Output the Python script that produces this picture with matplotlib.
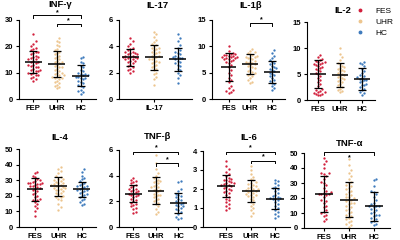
import numpy as np
import matplotlib
matplotlib.use('Agg')
import matplotlib.pyplot as plt
from matplotlib.lines import Line2D

plt.rcParams['font.family'] = ['Liberation Sans', 'DejaVu Sans']

groups = ['FES', 'UHR', 'HC']
colors = ['#d21f3c', '#edc58e', '#3f7bbd']

# INF-gamma
inf_fep = [24.5, 22, 21, 20, 19.5, 19, 18.5, 18, 18, 17.5, 17, 16.5, 16, 16, 15.5, 15, 15, 14.5, 14, 14,
           13.5, 13, 13, 12.5, 12, 12, 11.5, 11, 11, 10.5, 10.5, 10, 10, 9.5, 9, 9, 8.5, 8, 7.5, 7]
inf_uhr = [23, 22, 21.5, 20.5, 20, 19, 18.5, 18, 17.5, 17, 16.5, 16, 15.5, 15, 14.5, 14, 14, 13.5, 13, 12.5,
           12, 12, 11.5, 11, 10.5, 10, 10, 9.5, 9, 8.5, 8, 8, 7.5, 7, 6.5, 6, 5.5, 5, 4.5, 4, 8.5, 9]
inf_hc = [16, 15.5, 14, 13.5, 12.5, 12, 11, 10.5, 10, 9.5, 9.5, 9, 9, 8.5, 8.5, 8, 8, 7.5, 7, 6.5,
          6, 5.5, 5, 4.5, 3.5, 3, 2.5, 2]
inf_mean = [14.0, 13.2, 8.8]
inf_sd = [4.3, 4.9, 4.0]

# IL-17
il17_a = [4.6, 4.4, 4.2, 4.0, 3.9, 3.8, 3.7, 3.6, 3.6, 3.5, 3.4, 3.4, 3.3, 3.3, 3.2, 3.2, 3.1, 3.1, 3.0, 3.0,
          2.9, 2.9, 2.8, 2.7, 2.6, 2.5, 2.4, 2.3, 2.2, 2.1, 2.0, 3.5, 3.2]
il17_b = [5.1, 4.9, 4.7, 4.5, 4.3, 4.2, 4.0, 3.9, 3.8, 3.7, 3.6, 3.5, 3.4, 3.3, 3.3, 3.2, 3.1, 3.0, 3.0, 2.9,
          2.8, 2.7, 2.6, 2.5, 2.4, 2.3, 2.2, 2.0, 1.9, 1.7, 1.5, 1.1, 3.6, 2.8, 3.9, 4.1]
il17_c = [4.9, 4.6, 4.4, 4.1, 3.9, 3.7, 3.6, 3.5, 3.4, 3.3, 3.2, 3.1, 3.1, 3.0, 2.9, 2.8, 2.7, 2.6, 2.5, 2.3,
          2.2, 2.0, 1.8, 1.6, 1.2, 3.2]
il17_mean = [3.18, 3.18, 3.0]
il17_sd = [0.65, 0.95, 0.87]

# IL-1beta
il1b_fes = [10.0, 9.2, 8.8, 8.6, 8.5, 8.4, 8.3, 8.2, 8.1, 8.0, 8.0, 7.9, 7.8, 7.7, 7.6, 7.5, 7.4, 7.2, 7.0, 6.8,
            6.5, 6.0, 5.5, 5.0, 4.5, 4.0, 3.6, 3.2, 2.5, 2.0, 1.8, 1.5, 1.3, 1.2]
il1b_uhr = [9.5, 9.2, 8.9, 8.7, 8.5, 8.3, 8.1, 7.9, 7.7, 7.5, 7.3, 7.1, 7.0, 6.8, 6.6, 6.4, 6.2, 6.0, 5.8, 5.6,
            5.4, 5.2, 5.0, 4.8, 4.6, 4.4, 4.0, 3.6, 3.2, 3.0, 7.8, 6.9, 8.0]
il1b_hc = [9.3, 8.8, 8.2, 7.8, 7.4, 7.0, 6.6, 6.3, 6.0, 5.7, 5.5, 5.3, 5.0, 4.8, 4.6, 4.3, 4.0, 3.7, 3.4, 3.1,
           2.8, 2.4, 2.0, 1.7, 5.9, 6.8]
il1b_mean = [6.1, 6.6, 5.2]
il1b_sd = [2.6, 1.9, 2.1]

# IL-2
il2_fes = [8.7, 8.2, 7.9, 7.7, 7.5, 7.3, 7.1, 7.0, 6.8, 6.6, 6.4, 6.2, 6.0, 5.8, 5.5, 5.2, 5.0, 4.6, 4.2, 3.8,
           3.4, 3.0, 2.6, 2.2, 1.9, 1.7, 1.5, 1.3, 1.1, 1.0, 0.9, 1.2, 1.6, 6.9, 7.4]
il2_uhr = [10.0, 8.8, 8.2, 7.6, 7.2, 6.9, 6.6, 6.3, 6.0, 5.8, 5.5, 5.2, 5.0, 4.8, 4.6, 4.4, 4.2, 4.0, 3.7, 3.4,
           3.1, 2.8, 2.5, 2.2, 2.0, 1.8, 1.5, 5.6, 6.2, 3.9]
il2_hc = [7.4, 7.2, 7.0, 6.6, 6.0, 5.6, 5.2, 4.9, 4.6, 4.3, 4.1, 3.9, 3.6, 3.4, 3.1, 2.8, 2.5, 2.2, 1.9, 1.6,
          1.3, 1.0, 4.4, 3.8, 2.9]
il2_mean = [5.0, 4.8, 4.0]
il2_sd = [2.7, 2.3, 2.1]

# IL-4
il4_fes = [35.5, 34.5, 33, 32, 31, 30, 29.5, 29, 28.5, 28, 27.5, 27, 26.5, 26, 25.5, 25, 24.5, 24, 23, 22,
           21, 20, 19, 18, 17.5, 17, 16, 15, 13.5, 12, 10, 7, 27.8, 28.4]
il4_uhr = [38.5, 37, 36, 34.5, 33, 32, 31, 30.5, 30, 29.5, 29, 28.5, 28, 27.5, 27, 26.5, 26, 25.5, 25, 24.5,
           24, 23.5, 23, 22, 21.5, 21, 20, 19.5, 19, 18, 17, 15, 13, 11, 27.2, 25.2]
il4_hc = [37, 35.5, 33, 31.5, 30.5, 29.5, 28.5, 27.5, 27, 26.5, 26, 25.5, 25, 24.5, 24, 23.5, 23, 22.5, 22, 21,
          20.5, 20, 19, 18, 17, 16, 15, 14]
il4_mean = [24.1, 26.1, 24.1]
il4_sd = [7.2, 6.0, 5.0]

# TNF-beta
tnfb_fes = [3.8, 3.7, 3.6, 3.5, 3.4, 3.3, 3.2, 3.1, 3.0, 2.9, 2.8, 2.8, 2.7, 2.6, 2.6, 2.5, 2.4, 2.3, 2.2, 2.1,
            2.0, 1.9, 1.8, 1.7, 1.6, 1.5, 1.4, 1.2, 1.1, 3.0, 2.5]
tnfb_uhr = [5.6, 5.0, 4.5, 4.2, 4.0, 3.8, 3.7, 3.6, 3.5, 3.4, 3.3, 3.2, 3.1, 3.0, 2.9, 2.8, 2.7, 2.6, 2.5, 2.4,
            2.3, 2.2, 2.1, 2.0, 1.9, 1.8, 1.6, 1.4, 1.2, 1.0, 3.6, 2.9, 2.5, 3.1]
tnfb_hc = [3.6, 3.5, 3.0, 2.8, 2.6, 2.5, 2.3, 2.2, 2.1, 2.0, 1.9, 1.9, 1.8, 1.7, 1.6, 1.5, 1.4, 1.3, 1.2, 1.0,
           0.8, 0.7, 0.6, 2.4, 1.6]
tnfb_mean = [2.6, 2.82, 1.88]
tnfb_sd = [0.65, 1.05, 0.78]

# IL-6
il6_fes = [3.45, 3.2, 3.05, 2.9, 2.8, 2.7, 2.6, 2.5, 2.45, 2.4, 2.35, 2.3, 2.25, 2.2, 2.15, 2.1, 2.05, 2.0, 1.95,
           1.9, 1.85, 1.8, 1.7, 1.6, 1.5, 1.4, 1.3, 1.2, 1.1, 1.0, 0.9, 2.3, 2.2, 2.55]
il6_uhr = [3.2, 3.0, 2.8, 2.65, 2.55, 2.45, 2.35, 2.25, 2.2, 2.15, 2.1, 2.05, 2.0, 1.95, 1.9, 1.85, 1.8, 1.75,
           1.7, 1.65, 1.6, 1.5, 1.4, 1.3, 1.2, 1.1, 1.0, 0.9, 0.75, 0.6, 2.3, 1.9, 2.0, 1.7]
il6_hc = [2.5, 2.4, 2.3, 2.2, 2.1, 2.0, 1.9, 1.8, 1.7, 1.65, 1.6, 1.55, 1.5, 1.45, 1.4, 1.3, 1.2, 1.1, 1.0, 0.9,
          0.8, 0.7, 0.6, 0.5, 1.55, 2.05]
il6_mean = [2.15, 1.9, 1.5]
il6_sd = [0.58, 0.6, 0.55]

# TNF-alpha
tnfa_fes = [47, 45, 43, 40, 37, 36, 35, 33, 31, 29, 27, 25, 24, 23.5, 23, 22.5, 22, 21, 19, 18,
            17, 15, 14, 12, 11, 10, 9, 8, 6, 5, 23, 30, 36.5]
tnfa_uhr = [46, 42, 39, 37, 35, 33, 31, 30, 29, 28, 27, 26, 25, 24, 23, 22, 21, 20, 19, 18,
            17, 16, 15, 14, 13, 12, 11, 10, 9, 8, 7, 6, 5, 4, 3, 2, 1, 20.5, 18.5, 16.5]
tnfa_hc = [33, 32, 28, 25, 24, 23, 21, 19, 17, 16, 15, 14.5, 14, 13, 12, 11, 10, 9, 8, 7,
           6, 5, 4, 3, 2, 14.8, 8.5]
tnfa_mean = [23.0, 19.0, 14.5]
tnfa_sd = [12.0, 11.5, 9.5]


def swarm(vals, yspan, step=0.1):
    # deterministic spread of points that sit at similar heights
    v = np.asarray(vals, dtype=float)
    xs = np.zeros(len(v))
    placed = []
    cands = [0]
    for k in range(1, 5):
        cands += [k * step, -k * step]
    for idx in np.argsort(v):
        y = v[idx]
        near = [px for px, py in placed if abs(py - y) < yspan * 0.045]
        best = cands[0]
        for c in cands:
            if all(abs(c - px) > step * 0.6 for px in near):
                best = c
                break
        else:
            best = cands[len(placed) % len(cands)]
        xs[idx] = best
        placed.append((best, y))
    return xs


fig = plt.figure(figsize=(4, 2.4), dpi=100)


def panel(rect, title, data, mean, sd, ymax, yticks, xlim, xlabels, brackets=(), title_y=1.15):
    ax = fig.add_axes([rect[0] / 400, 1 - rect[3] / 240, (rect[1] - rect[0]) / 400, (rect[3] - rect[2]) / 240])
    for i, vals in enumerate(data):
        xs = swarm(vals, ymax)
        ax.scatter(i + xs, vals, s=2.8, color=colors[i], lw=0, zorder=2)
        ax.errorbar(i, mean[i], yerr=sd[i], color='k', lw=0.9, capsize=2.8, capthick=0.9, zorder=3)
        ax.hlines(mean[i], i - 0.36, i + 0.36, color='k', lw=1.1, zorder=3)
    ax.set_ylim(0, ymax)
    ax.set_xlim(*xlim)
    ax.set_yticks(yticks)
    ax.set_yticklabels([str(t) for t in yticks], fontsize=5.5, fontweight='bold')
    if len(xlabels) == 3:
        ax.set_xticks([0, 1, 2])
    else:
        ax.set_xticks([1])
    ax.set_xticklabels(xlabels, fontsize=5.5, fontweight='bold')
    ax.tick_params(length=2.5, width=0.8, pad=1.5)
    for s in ['top', 'right']:
        ax.spines[s].set_visible(False)
    for s in ['left', 'bottom']:
        ax.spines[s].set_linewidth(0.8)
    ax.text(0.5 * (xlim[0] + xlim[1]) + 0.1, title_y, title, transform=ax.get_xaxis_transform(),
            ha='center', va='center', fontsize=6.8, fontweight='bold')
    d = ymax * 0.03
    for i, j, y, sy in brackets:
        ax.plot([i, i, j, j], [y - d, y, y, y - d], color='k', lw=0.7, clip_on=False)
        ax.text((i + j) / 2, sy, '*', ha='center', va='center', fontsize=5, fontweight='bold')
    return ax


panel((19, 96, 20, 99), 'INF-γ', [inf_fep, inf_uhr, inf_hc], inf_mean, inf_sd, 30, [0, 10, 20, 30],
      (-0.6, 2.65), ['FEP', 'UHR', 'HC'],
      brackets=[(0, 2, 31.8, 32.7), (1, 2, 28.5, 29.6)], title_y=1.19)
panel((119, 192, 20, 99), 'IL-17', [il17_a, il17_b, il17_c], il17_mean, il17_sd, 6, [0, 2, 4, 6],
      (-0.47, 2.6), ['IL-17'], title_y=1.18)
panel((212, 285, 20, 99), 'IL-1β', [il1b_fes, il1b_uhr, il1b_hc], il1b_mean, il1b_sd, 15, [0, 5, 10, 15],
      (-0.76, 2.6), groups, brackets=[(1, 2, 14.4, 15.0)], title_y=1.18)
panel((307, 375, 22, 100), 'IL-2', [il2_fes, il2_uhr, il2_hc], il2_mean, il2_sd, 15, [0, 5, 10, 15],
      (-0.5, 2.6), groups, title_y=1.15)
panel((19, 96, 149, 227), 'IL-4', [il4_fes, il4_uhr, il4_hc], il4_mean, il4_sd, 50, [0, 10, 20, 30, 40, 50],
      (-0.68, 2.6), groups, title_y=1.15)
panel((119, 192, 150, 227), 'TNF-β', [tnfb_fes, tnfb_uhr, tnfb_hc], tnfb_mean, tnfb_sd, 6, [0, 2, 4, 6],
      (-0.64, 2.6), groups, brackets=[(0, 2, 5.85, 6.15), (1, 2, 4.95, 5.25)], title_y=1.17)
panel((203, 290, 151, 227), 'IL-6', [il6_fes, il6_uhr, il6_hc], il6_mean, il6_sd, 4, [0, 1, 2, 3, 4],
      (-0.95, 2.6), groups, brackets=[(0, 2, 3.95, 4.15), (1, 2, 3.5, 3.7)], title_y=1.18)
panel((304, 390, 153, 228), 'TNF-α', [tnfa_fes, tnfa_uhr, tnfa_hc], tnfa_mean, tnfa_sd, 50,
      [0, 10, 20, 30, 40, 50], (-0.8, 2.65), groups, brackets=[(0, 2, 50.5, 47.0)], title_y=1.13)

handles = [Line2D([], [], ls='none', marker='o', ms=1.8, color=c) for c in colors]
fig.legend(handles, groups, loc='upper left', bbox_to_anchor=(352 / 400, 1 - 4 / 240), frameon=False,
           fontsize=6, handletextpad=1.4, labelspacing=0.35, handlelength=1.0, borderaxespad=0)

fig.savefig('out.png', dpi=100)
